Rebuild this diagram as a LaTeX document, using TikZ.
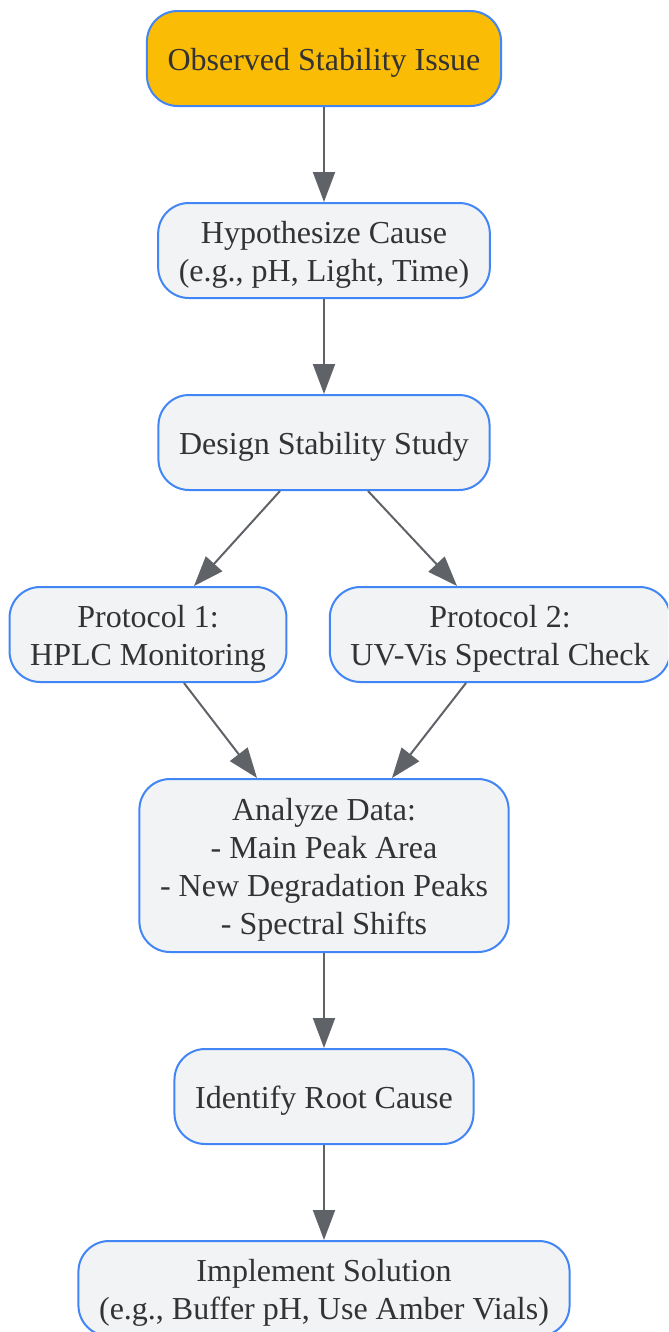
\documentclass[tikz,border=0pt]{standalone}
\usepackage{fontspec}
\setmainfont{Liberation Serif}
\usepackage{tikz}
\usepackage{color}
\usetikzlibrary{positioning,calc,arrows.meta}
\definecolor{issuefill}{HTML}{FBBC05}
\definecolor{stepfill}{HTML}{F1F3F4}
\definecolor{stepline}{HTML}{4285F4}
\definecolor{linkgrey}{HTML}{5F6368}
\definecolor{textgrey}{HTML}{333333}
\newcommand{\topstrut}{\rule{0pt}{22.5pt}}

\begin{document}
\begin{tikzpicture}[
				x=0.75pt, y=-0.75pt,
				node distance=71.25pt,
				block/.style={rectangle, rounded corners=23pt, draw=stepline, fill=stepfill, line width=1.5pt, text=textgrey, font=\fontsize{24}{28.5}\selectfont, align=center, minimum height=71.25pt, inner xsep=15.5pt, inner ysep=6pt},
				issue/.style={block, fill=issuefill}
			]
			\useasboundingbox (0,0) rectangle (668,1332);
			\clip (0,0) rectangle (668,1332);
			\node[issue] (observed) at (324,58.5) {\topstrut Observed Stability Issue};
			\node[block] (hypothesis) [below=of observed] {\topstrut Hypothesize Cause\\(e.g., pH, Light, Time)};
			\node[block] (design) [below=of hypothesis] {\topstrut Design Stability Study};
			\node[block] (protocol1) [below=of design, xshift=-132pt] {\topstrut Protocol 1:\\HPLC Monitoring};
			\node[block] (protocol2) [below=of design, xshift=132pt] {\topstrut Protocol 2:\\UV-Vis Spectral Check};
			\node[block, minimum height=129.75pt] (analyze) [below=of protocol1, xshift=132pt] {\topstrut Analyze Data:\\- Main Peak Area\\- New Degradation Peaks\\- Spectral Shifts};
			\node[block] (rootcause) [below=of analyze] {\topstrut Identify Root Cause};
			\node[block] (solution) [below=of rootcause] {\topstrut Implement Solution\\(e.g., Buffer pH, Use Amber Vials)};
			\begin{scope}[line width=1.5pt, draw=linkgrey, -{Triangle[width=16.5pt, length=22.5pt]}]
			\draw (observed) -- (hypothesis);
			\draw (hypothesis) -- (design);
			\draw ($(design.south)+(-44,0)$) -- ($(protocol1.north)+(46,0)$);
			\draw ($(design.south)+(44,0)$) -- ($(protocol2.north)+(-43,0)$);
			\draw ($(protocol1.south)+(36,0)$) -- ($(analyze.north)+(-67,0)$);
			\draw ($(protocol2.south)+(-34,0)$) -- ($(analyze.north)+(68,0)$);
			\draw (analyze) -- (rootcause);
			\draw (rootcause) -- (solution);
			\end{scope}
			\end{tikzpicture}
\end{document}
